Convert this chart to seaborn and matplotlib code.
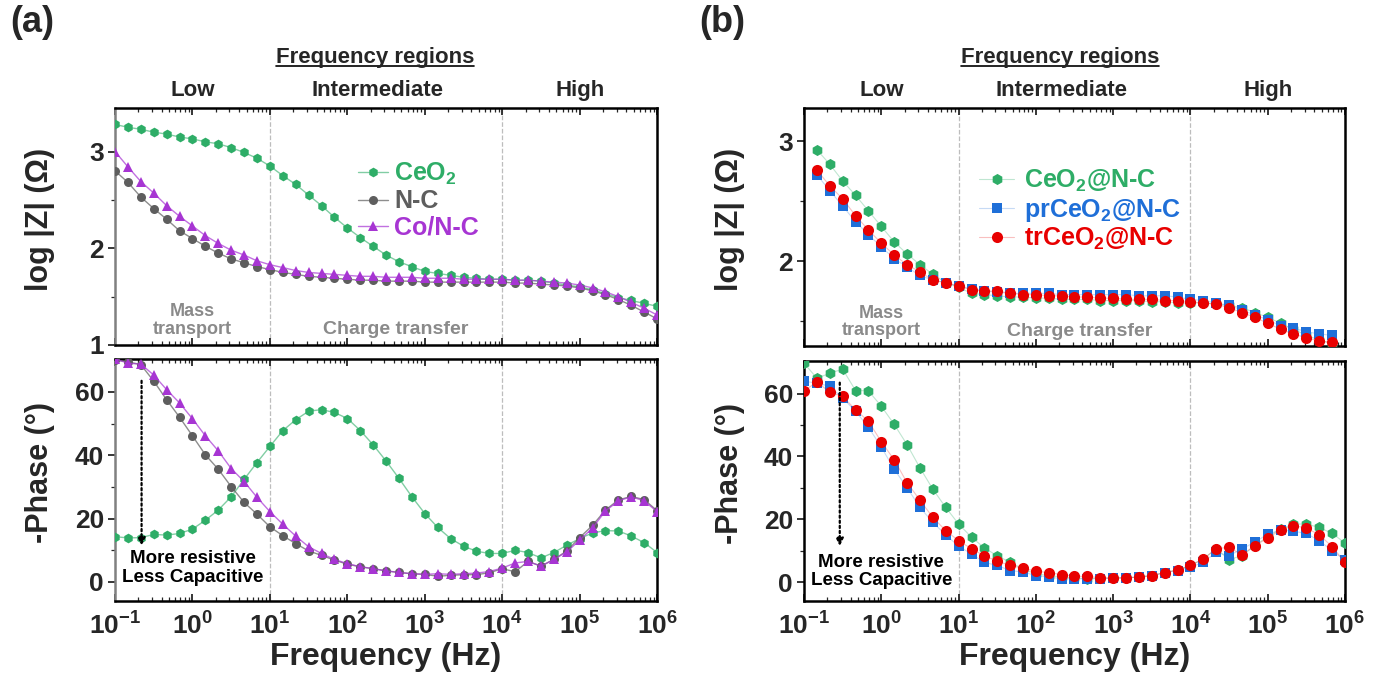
import matplotlib
matplotlib.use('Agg')
import matplotlib.pyplot as plt
from matplotlib.ticker import LogLocator, FixedLocator, NullFormatter
from matplotlib.lines import Line2D
from matplotlib.colors import to_rgba
import seaborn as sns
import numpy as np
import pandas as pd

# ---------------- data ----------------
freq = [0.1, 0.147, 0.215, 0.316, 0.464, 0.681, 1.0, 1.47, 2.15, 3.16, 4.64, 6.81,
        10, 14.7, 21.5, 31.6, 46.4, 68.1, 100, 147, 215, 316, 464, 681,
        1000, 1470, 2150, 3160, 4640, 6810, 1e4, 1.47e4, 2.15e4, 3.16e4, 4.64e4, 6.81e4,
        1e5, 1.47e5, 2.15e5, 3.16e5, 4.64e5, 6.81e5, 1e6]
freq_b_z = freq[1:42]

a_labels = ['CeO$_\\mathbf{2}$', 'N-C', 'Co/N-C']
b_labels = ['CeO$_\\mathbf{2}$@N-C', 'prCeO$_\\mathbf{2}$@N-C', 'trCeO$_\\mathbf{2}$@N-C']

ceo2_z = [3.28, 3.25, 3.23, 3.20, 3.18, 3.15, 3.13, 3.10, 3.08, 3.04,
          2.99, 2.93, 2.85, 2.75, 2.66, 2.55, 2.44, 2.32, 2.21, 2.11,
          2.02, 1.93, 1.86, 1.81, 1.76, 1.74, 1.72, 1.70, 1.69, 1.68,
          1.68, 1.67, 1.67, 1.66, 1.64, 1.62, 1.60, 1.57, 1.53, 1.49,
          1.46, 1.43, 1.40]
nc_z = [2.80, 2.68, 2.53, 2.41, 2.30, 2.18, 2.10, 2.02, 1.95, 1.89,
        1.85, 1.81, 1.78, 1.75, 1.73, 1.71, 1.70, 1.69, 1.68, 1.67,
        1.67, 1.66, 1.66, 1.66, 1.65, 1.65, 1.65, 1.65, 1.65, 1.65,
        1.65, 1.64, 1.64, 1.63, 1.62, 1.61, 1.59, 1.56, 1.52, 1.47,
        1.41, 1.34, 1.27]
conc_z = [3.00, 2.84, 2.69, 2.57, 2.44, 2.33, 2.23, 2.13, 2.05, 1.98,
          1.93, 1.87, 1.83, 1.80, 1.77, 1.75, 1.74, 1.73, 1.72, 1.71,
          1.71, 1.70, 1.70, 1.70, 1.69, 1.69, 1.69, 1.68, 1.68, 1.68,
          1.68, 1.67, 1.67, 1.66, 1.65, 1.64, 1.62, 1.59, 1.55, 1.50,
          1.44, 1.38, 1.31]

ceo2_p = [14.3, 13.9, 14.0, 15.0, 14.8, 15.3, 16.7, 19.5, 22.7, 26.9,
          32.4, 37.7, 42.8, 47.8, 51.2, 53.9, 54.4, 53.5, 51.6, 47.8,
          43.3, 38.2, 32.7, 26.9, 21.6, 17.2, 13.7, 11.3, 9.7, 9.0,
          9.0, 10.0, 9.3, 7.6, 9.3, 11.6, 13.7, 15.5, 16.2, 16.1,
          14.5, 12.4, 9.3]
nc_p = [70.0, 69.5, 68.6, 63.4, 57.5, 52.0, 46.1, 40.1, 35.6, 30.1,
        25.1, 21.4, 17.4, 14.6, 12.1, 9.8, 8.4, 6.9, 5.6, 4.8,
        4.2, 3.5, 3.0, 2.6, 2.4, 1.8, 2.1, 2.3, 2.3, 2.9,
        4.2, 3.2, 6.5, 5.0, 7.1, 9.8, 14.0, 17.9, 22.7, 25.9,
        27.0, 26.0, 22.5]
conc_p = [70.5, 69.0, 68.8, 65.3, 60.7, 56.5, 51.5, 46.1, 41.4, 35.8,
          31.7, 26.7, 22.2, 18.2, 14.5, 11.1, 9.0, 7.1, 5.8, 4.8,
          4.2, 3.5, 3.0, 2.6, 2.4, 2.6, 2.4, 2.6, 2.8, 3.3,
          4.4, 6.0, 6.5, 5.0, 7.1, 9.5, 13.2, 17.1, 22.4, 25.6,
          26.9, 25.6, 22.2]

ceo2nc_z = [2.93, 2.81, 2.67, 2.55, 2.42, 2.29, 2.16, 2.06, 1.97, 1.89,
            1.82, 1.78, 1.73, 1.72, 1.71, 1.70, 1.70, 1.69, 1.69, 1.68,
            1.68, 1.68, 1.67, 1.67, 1.67, 1.67, 1.66, 1.66, 1.65, 1.65,
            1.65, 1.64, 1.63, 1.61, 1.57, 1.53, 1.48, 1.43, 1.38, 1.34,
            1.31]
prceo2_z = [2.72, 2.59, 2.46, 2.33, 2.22, 2.12, 2.02, 1.95, 1.88, 1.84,
            1.82, 1.79, 1.77, 1.75, 1.74, 1.73, 1.73, 1.73, 1.73, 1.72,
            1.72, 1.72, 1.72, 1.72, 1.72, 1.71, 1.71, 1.71, 1.70, 1.68,
            1.67, 1.65, 1.63, 1.59, 1.55, 1.51, 1.46, 1.44, 1.41, 1.39,
            1.38]
trceo2_z = [2.76, 2.63, 2.52, 2.38, 2.26, 2.15, 2.05, 1.97, 1.91, 1.84,
            1.82, 1.79, 1.76, 1.75, 1.75, 1.73, 1.72, 1.72, 1.71, 1.71,
            1.70, 1.70, 1.69, 1.69, 1.68, 1.68, 1.68, 1.67, 1.67, 1.66,
            1.65, 1.64, 1.61, 1.57, 1.53, 1.48, 1.43, 1.39, 1.36, 1.33,
            1.32]

ceo2nc_p = [69.7, 64.9, 66.5, 67.8, 61.0, 60.9, 56.0, 50.2, 43.8, 36.4,
            29.6, 23.8, 18.5, 14.3, 10.9, 8.4, 6.3, 4.2, 2.6, 2.1,
            1.6, 1.4, 1.1, 1.3, 1.3, 1.4, 1.6, 2.1, 3.0, 3.9,
            5.3, 7.4, 10.6, 7.2, 8.4, 11.6, 14.5, 16.9, 18.5, 18.5,
            17.4, 15.5, 12.5]
prceo2_p = [63.9, 63.4, 62.3, 58.6, 54.4, 49.3, 43.0, 35.9, 30.1, 23.8,
            19.0, 15.1, 11.4, 9.0, 6.3, 5.3, 3.7, 3.2, 2.1, 1.6,
            1.1, 1.1, 1.0, 1.1, 1.2, 1.4, 1.6, 2.1, 3.0, 3.7,
            4.8, 6.3, 9.5, 8.4, 10.6, 12.7, 15.3, 16.6, 16.2, 15.5,
            13.2, 10.0, 7.0]
trceo2_p = [60.9, 63.7, 60.5, 59.1, 54.9, 51.2, 44.7, 38.9, 31.7, 26.1,
            20.6, 16.4, 13.2, 10.6, 8.4, 6.7, 5.3, 4.4, 3.5, 3.0,
            2.4, 1.9, 1.8, 1.4, 1.3, 1.4, 1.6, 2.1, 3.0, 3.9,
            5.3, 7.4, 10.6, 11.1, 8.7, 11.6, 14.0, 16.6, 18.0, 17.2,
            15.1, 11.3, 6.3]

xtick_vals = [0.1, 1, 10, 100, 1e3, 1e4, 1e5, 1e6]
xtick_labels = ['$\\mathbf{10^{-1}}$', '$\\mathbf{10^{0}}$', '$\\mathbf{10^{1}}$', '$\\mathbf{10^{2}}$',
                '$\\mathbf{10^{3}}$', '$\\mathbf{10^{4}}$', '$\\mathbf{10^{5}}$', '$\\mathbf{10^{6}}$']

# ---------------- style ----------------
sns.set_style('ticks')
plt.rcParams['font.family'] = ['Liberation Sans', 'DejaVu Sans']
plt.rcParams['mathtext.fontset'] = 'custom'
plt.rcParams['mathtext.rm'] = 'Liberation Sans'
plt.rcParams['mathtext.bf'] = 'Liberation Sans:bold'
plt.rcParams['mathtext.it'] = 'Liberation Sans:italic'
plt.rcParams['mathtext.sf'] = 'Liberation Sans'

GREEN = '#2EAD67'
GREY = '#5E5E5E'
PURPLE = '#A735D3'
BLUE = '#1F6FD8'
RED = '#E80000'
TXTGREY = '#8A8A8A'

fig = plt.figure(figsize=(13.73, 6.77), dpi=100)
axA1 = fig.add_axes([0.0838, 0.4904, 0.3948, 0.3501])
axA2 = fig.add_axes([0.0838, 0.1123, 0.3948, 0.3575])
axB1 = fig.add_axes([0.5856, 0.4889, 0.3940, 0.3516])
axB2 = fig.add_axes([0.5856, 0.1123, 0.3940, 0.3545])


def draw(ax, x, y, color, marker, ms, lw, line_alpha):
    df = pd.DataFrame({'f': x, 'v': y})
    sns.lineplot(data=df, x='f', y='v', ax=ax, color=color, marker=marker,
                 markersize=ms, linewidth=lw, markeredgewidth=0, sort=False,
                 legend=False, zorder=3)
    ln = ax.lines[-1]
    ln.set_color(to_rgba(color, line_alpha))
    ln.set_markerfacecolor(color)
    ln.set_markeredgecolor(color)
    return ln


def style(ax, ylim, yticks, yminor, show_x, left_color='black'):
    ax.set_xscale('log')
    ax.set_xlim(0.1, 1e6)
    ax.set_ylim(*ylim)
    ax.set_xticks(xtick_vals)
    ax.xaxis.set_minor_locator(LogLocator(base=10, subs=np.arange(2, 10), numticks=30))
    ax.xaxis.set_minor_formatter(NullFormatter())
    if show_x:
        ax.set_xticklabels(xtick_labels)
    else:
        ax.set_xticklabels([])
    ax.set_yticks(yticks)
    ax.yaxis.set_minor_locator(FixedLocator(yminor))
    ax.tick_params(axis='x', which='both', direction='in', top=True, bottom=True, labelsize=19, pad=8)
    ax.tick_params(axis='x', which='major', length=5, width=1.3)
    ax.tick_params(axis='x', which='minor', length=3, width=0.9)
    ax.tick_params(axis='y', which='both', direction='out', left=True, right=False, labelsize=19, pad=3)
    ax.tick_params(axis='y', which='major', length=5, width=1.3)
    ax.tick_params(axis='y', which='minor', length=3, width=0.9)
    for lab in ax.get_yticklabels():
        lab.set_fontweight('bold')
    for s in ax.spines.values():
        s.set_linewidth(1.8)
        s.set_color('black')
        s.set_visible(True)
    ax.spines['left'].set_color(left_color)
    ax.axvline(10, color='#BDBDBD', ls='--', lw=0.9, zorder=0)
    ax.axvline(1e4, color='#BDBDBD', ls='--', lw=0.9, zorder=0)
    ax.set_xlabel('')
    ax.set_ylabel('')
    ax.grid(False)


# ---------------- panel (a) ----------------
la1 = draw(axA1, freq, ceo2_z, GREEN, 'h', 7, 1.0, 0.6)
la2 = draw(axA1, freq, nc_z, GREY, 'o', 6.5, 1.0, 0.7)
la3 = draw(axA1, freq, conc_z, PURPLE, '^', 6.5, 1.0, 0.7)
draw(axA2, freq, ceo2_p, GREEN, 'h', 7, 1.0, 0.6)
draw(axA2, freq, nc_p, GREY, 'o', 6.5, 1.0, 0.7)
draw(axA2, freq, conc_p, PURPLE, '^', 6.5, 1.0, 0.7)

style(axA1, (1, 3.45), [1, 2, 3], [1.5, 2.5], False, '#808080')
style(axA2, (-6, 70.4), [0, 20, 40, 60], [10, 30, 50], True, '#808080')

# ---------------- panel (b) ----------------
lb1 = draw(axB1, freq_b_z, ceo2nc_z, GREEN, 'h', 8, 0.8, 0.3)
lb2 = draw(axB1, freq_b_z, prceo2_z, BLUE, 's', 7, 0.8, 0.25)
lb3 = draw(axB1, freq_b_z, trceo2_z, RED, 'o', 8, 0.8, 0.25)
draw(axB2, freq, ceo2nc_p, GREEN, 'h', 8, 0.8, 0.3)
draw(axB2, freq, prceo2_p, BLUE, 's', 7, 0.8, 0.25)
draw(axB2, freq, trceo2_p, RED, 'o', 8, 0.8, 0.25)

style(axB1, (1.29, 3.28), [2, 3], [1.5, 2.5], False)
style(axB2, (-6, 70.4), [0, 20, 40, 60], [10, 30, 50], True)

# axis labels
for ax, lab, xc in [(axA1, 'log |Z| (Ω)', -0.111), (axB1, 'log |Z| (Ω)', -0.109),
                    (axA2, '-Phase (°)', -0.111), (axB2, '-Phase (°)', -0.109)]:
    ax.set_ylabel(lab, fontsize=22, fontweight='bold')
    ax.yaxis.set_label_coords(xc, 0.53)
for ax in (axA2, axB2):
    ax.set_xlabel('Frequency (Hz)', fontsize=23, fontweight='bold', labelpad=2)

# legends
legA = axA1.legend([la1, la2, la3], a_labels, loc='upper left', bbox_to_anchor=(0.43, 0.82),
                   frameon=False, handlelength=1.2, handletextpad=0.25, labelspacing=0.1,
                   prop={'size': 18, 'weight': 'bold'}, borderaxespad=0)
for t, c in zip(legA.get_texts(), [GREEN, GREY, PURPLE]):
    t.set_color(c)
legB = axB1.legend([lb1, lb2, lb3], b_labels, loc='upper left', bbox_to_anchor=(0.305, 0.79),
                   frameon=False, handlelength=1.4, handletextpad=0.4, labelspacing=0.1,
                   prop={'size': 18, 'weight': 'bold'}, borderaxespad=0)
for t, c in zip(legB.get_texts(), [GREEN, BLUE, RED]):
    t.set_color(c)

# region text
axA1.text(1.0, 1.255, 'Mass\ntransport', ha='center', va='center', fontsize=13, fontweight='bold',
          color=TXTGREY, linespacing=1.05)
axA1.text(10 ** 2.62, 1.16, 'Charge transfer', ha='center', va='center', fontsize=14,
          fontweight='bold', color=TXTGREY)
axB1.text(1.0, 1.49, 'Mass\ntransport', ha='center', va='center', fontsize=13, fontweight='bold',
          color=TXTGREY, linespacing=1.05)
axB1.text(10 ** 2.57, 1.41, 'Charge transfer', ha='center', va='center', fontsize=14,
          fontweight='bold', color=TXTGREY)

# arrows and annotation
for ax, xa, ytxt in [(axA2, 0.22, 4.4), (axB2, 0.29, 3.4)]:
    ax.annotate('', xy=(xa, 11.5), xytext=(xa, 63.5),
                arrowprops=dict(arrowstyle='-|>', linestyle=(0, (1, 1.3)), lw=1.6, color='black',
                                mutation_scale=11, shrinkA=0, shrinkB=0), zorder=5)
    ax.text(1.0, ytxt, 'More resistive\nLess Capacitive', ha='center', va='center', fontsize=13.5,
            fontweight='bold', color='black', linespacing=1.1, zorder=6)

# top region labels
trans_a = axA1.get_xaxis_transform()
trans_b = axB1.get_xaxis_transform()
for ax, tr, xi in [(axA1, trans_a, 10 ** 2.385), (axB1, trans_b, 10 ** 2.33)]:
    ax.text(1.0, 1.072, 'Low', transform=tr, ha='center', va='center', fontsize=16, fontweight='bold')
    ax.text(xi, 1.072, 'Intermediate', transform=tr, ha='center', va='center', fontsize=16, fontweight='bold')
    ax.text(1e5, 1.072, 'High', transform=tr, ha='center', va='center', fontsize=16, fontweight='bold')

fr_texts = []
fr_texts.append(fig.text(375 / 1373, 1 - 57 / 677, 'Frequency regions', ha='center', va='center',
                         fontsize=16, fontweight='bold'))
fr_texts.append(fig.text(1060 / 1373, 1 - 57 / 677, 'Frequency regions', ha='center', va='center',
                         fontsize=16, fontweight='bold'))
fig.text(32 / 1373, 1 - 22 / 677, '(a)', ha='center', va='center', fontsize=26, fontweight='bold')
fig.text(722 / 1373, 1 - 22 / 677, '(b)', ha='center', va='center', fontsize=26, fontweight='bold')

# underline "Frequency regions"
fig.canvas.draw()
renderer = fig.canvas.get_renderer()
inv = fig.transFigure.inverted()
for t in fr_texts:
    bb = t.get_window_extent(renderer)
    (x0, y0), (x1, y1) = inv.transform([(bb.x0, bb.y0), (bb.x1, bb.y1)])
    fig.add_artist(Line2D([x0, x1], [y0 + 0.002, y0 + 0.002], color='black', lw=1.2,
                          transform=fig.transFigure))

fig.savefig('out.png', dpi=100)
